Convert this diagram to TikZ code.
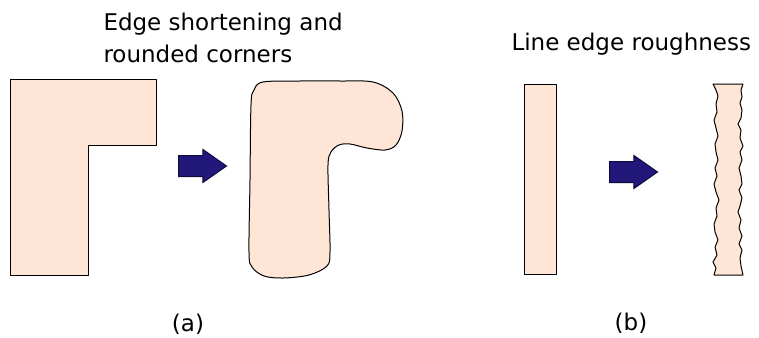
\documentclass[tikz,border=0pt]{standalone}
\usepackage{fontspec}
\setmainfont{DejaVu Sans}
\usepackage{xcolor}
\usetikzlibrary{shapes.arrows}
\definecolor{peach}{RGB}{255,229,213}
\definecolor{navy}{RGB}{33,24,122}
\definecolor{navyline}{RGB}{14,10,64}

\begin{document}
\begin{tikzpicture}[x=1pt, y=-1pt, line width=1pt,
        part/.style={fill=peach, draw=black, line join=round},
        blockarrow/.style={single arrow, fill=navy, draw=navyline, inner xsep=0pt,
            inner ysep=10pt, minimum height=48pt, single arrow head extend=6pt,
            single arrow tip angle=70, anchor=tail},
        lbl/.style={font=\fontsize{23}{32}\selectfont, inner sep=0pt}]
        \useasboundingbox (0, 0) rectangle (759, 337);

        \node[lbl, anchor=base west, align=left] (titleA) at (103, 63) {Edge shortening and\\rounded corners};
        \node[lbl, anchor=base west] (titleB) at (511, 51) {Line edge roughness};

        \filldraw[part] (10, 79) -- (156, 79) -- (156, 145) -- (88, 145) -- (88, 275) -- (10, 275) -- cycle;

        \node[blockarrow] (arrowA) at (178, 166) {};

        \filldraw[part] plot[smooth cycle, tension=0.55] coordinates {
                (263, 82) (300, 81) (340, 81) (373, 82) (393, 93) (402, 111)
                (402, 131) (396, 145) (385, 150) (367, 148) (350, 144) (339, 145)
                (331, 152) (328, 165) (329, 210) (330, 252) (327, 266) (309, 275)
                (283, 278) (264, 276) (252, 267) (249, 252) (250, 180) (251, 105)
                (254, 90)
            };

        \filldraw[part] (524, 84) rectangle (556, 274);

        \node[blockarrow] (arrowB) at (609, 172) {};

        \filldraw[part] (713, 84) -- (743, 84) -- (741, 90) -- (742, 97) -- (740, 103)
            -- (742, 110) -- (741, 118) -- (738, 124) -- (741, 130) -- (740, 138)
            -- (743, 146) -- (740, 152) -- (742, 160) -- (739, 168) -- (741, 176)
            -- (742, 184) -- (739, 190) -- (742, 198) -- (740, 206) -- (738, 212)
            -- (741, 220) -- (739, 228) -- (742, 236) -- (739, 244) -- (742, 250)
            -- (740, 258) -- (741, 266) -- (743, 275) -- (714, 275) -- (716, 268)
            -- (713, 262) -- (717, 255) -- (715, 247) -- (718, 240) -- (715, 232)
            -- (714, 224) -- (717, 216) -- (716, 208) -- (719, 200) -- (716, 192)
            -- (714, 184) -- (717, 176) -- (715, 168) -- (718, 160) -- (716, 152)
            -- (715, 144) -- (718, 136) -- (716, 128) -- (714, 120) -- (717, 112)
            -- (716, 104) -- (718, 96) -- (716, 90) -- cycle;

        \node[lbl, anchor=base] (capA) at (188, 331) {(a)};
        \node[lbl, anchor=base] (capB) at (631, 330) {(b)};
    \end{tikzpicture}
\end{document}
